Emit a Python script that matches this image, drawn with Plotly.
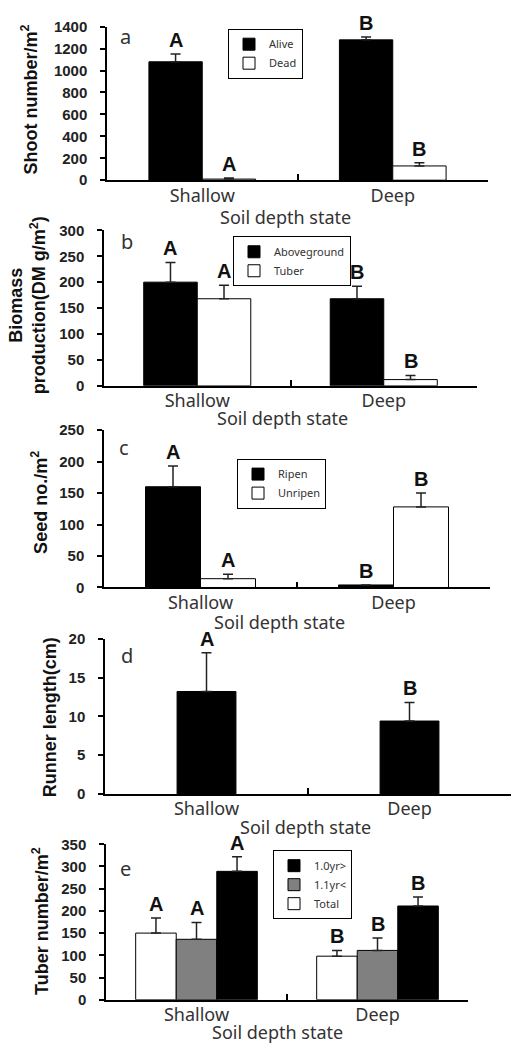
import plotly.graph_objects as go

W, H = 513, 1051

# ---------------- data ----------------
categories = ["Shallow", "Deep"]

# (a) shoot number / m2
alive = [1080, 1280]
alive_err = [70, 25]
alive_sig = ["A", "B"]
dead = [10, 130]
dead_err = [10, 30]
dead_sig = ["A", "B"]

# (b) biomass production (DM g/m2)
aboveground = [200, 168]
aboveground_err = [38, 24]
aboveground_sig = ["A", "B"]
tuber = [168, 12]
tuber_err = [26, 8]
tuber_sig = ["A", "B"]

# (c) seed no. / m2
ripen = [160, 4]
ripen_err = [33, 0]
ripen_sig = ["A", "B"]
unripen = [14, 128]
unripen_err = [7, 22]
unripen_sig = ["A", "B"]

# (d) runner length (cm)
runner = [13.2, 9.4]
runner_err = [5.0, 2.4]
runner_sig = ["A", "B"]

# (e) tuber number / m2
total = [150, 98]
total_err = [34, 13]
total_sig = ["A", "B"]
yr11 = [136, 111]
yr11_err = [38, 28]
yr11_sig = ["A", "B"]
yr10 = [289, 211]
yr10_err = [33, 20]
yr10_sig = ["A", "B"]

ticks_a = [0, 200, 400, 600, 800, 1000, 1200, 1400]
ticks_b = [0, 50, 100, 150, 200, 250, 300]
ticks_c = [0, 50, 100, 150, 200, 250]
ticks_d = [0, 5, 10, 15, 20]
ticks_e = [0, 50, 100, 150, 200, 250, 300, 350]

x_title = "Soil depth state"

# ---------------- layout helpers ----------------
def fx(px):
    return px / W

def fy(py):
    return 1 - py / H

BLACK, WHITE, GRAY = "#000000", "#ffffff", "#808080"

panels = [
    dict(label="a", box=(107, 488, 18, 174), ticks=ticks_a,
         ytitle="Shoot number/m<sup>2</sup>", ytitle_pos=(30, 92),
         series=[("Alive", alive, alive_err, alive_sig, BLACK),
                 ("Dead", dead, dead_err, dead_sig, WHITE)],
         bw=0.28, legend=(228, 20), lab=(125, 28), xt=(285, 211), rev=False),
    dict(label="b", box=(104, 477, 225, 383), ticks=ticks_b,
         ytitle="Biomass<br>production(DM g/m<sup>2</sup>)", ytitle_pos=(27, 301),
         series=[("Aboveground", aboveground, aboveground_err, aboveground_sig, BLACK),
                 ("Tuber", tuber, tuber_err, tuber_sig, WHITE)],
         bw=0.287, legend=(233, 231), lab=(127, 236), xt=(282, 416), rev=False),
    dict(label="c", box=(104, 490, 428, 588), ticks=ticks_c,
         ytitle="Seed no./m<sup>2</sup>", ytitle_pos=(40, 502),
         series=[("Ripen", ripen, ripen_err, ripen_sig, BLACK),
                 ("Unripen", unripen, unripen_err, unripen_sig, WHITE)],
         bw=0.285, legend=(237, 457), lab=(124, 446), xt=(279, 623), rev=False),
    dict(label="d", box=(105, 511, 640, 798), ticks=ticks_d,
         ytitle="Runner length(cm)", ytitle_pos=(50, 720),
         series=[("Runner", runner, runner_err, runner_sig, BLACK)],
         bw=0.29, legend=None, lab=(127, 657), xt=(305, 831), rev=False),
    dict(label="e", box=(106, 468, 849, 1007), ticks=ticks_e,
         ytitle="Tuber number/m<sup>2</sup>", ytitle_pos=(40, 927),
         series=[("Total", total, total_err, total_sig, WHITE),
                 ("1.1yr<", yr11, yr11_err, yr11_sig, GRAY),
                 ("1.0yr>", yr10, yr10_err, yr10_sig, BLACK)],
         bw=0.224, legend=(273, 855), lab=(125, 874), xt=(277, 1040), rev=True),
]

fig = go.Figure()
annotations = []
layout = dict(
    width=W, height=H,
    margin=dict(l=0, r=0, t=0, b=0),
    paper_bgcolor="white", plot_bgcolor="white",
    barmode="overlay",
    showlegend=True,
    font=dict(family="Liberation Sans, Arial", color="#222222"),
)

for i, p in enumerate(panels, start=1):
    sfx = "" if i == 1 else str(i)
    xa, ya = "x" + sfx, "y" + sfx
    lg = "legend" + sfx
    x0, x1, y0, y1 = p["box"]
    n = len(p["series"])
    bw = p["bw"]
    cat_px = (x1 - x0) / len(categories)
    for k, (name, vals, err, sig, col) in enumerate(p["series"]):
        off = -n * bw / 2 + k * bw
        fig.add_trace(go.Bar(
            x=categories, y=vals, name=name,
            width=[bw] * len(categories), offset=[off] * len(categories),
            marker=dict(color=col, line=dict(color="black", width=1)),
            error_y=dict(type="data", symmetric=False, array=err,
                         arrayminus=[0] * len(err), color="#222222",
                         thickness=1.5, width=5),
            xaxis=xa, yaxis=ya, legend=lg,
            showlegend=p["legend"] is not None,
        ))
        for j, c in enumerate(categories):
            annotations.append(dict(
                x=c, y=vals[j] + err[j], xref=xa, yref=ya,
                xshift=(off + bw / 2) * cat_px, yshift=1,
                text=sig[j], showarrow=False, yanchor="bottom",
                font=dict(family="Liberation Sans, Arial", size=20,
                          color="#111111", weight="bold"),
            ))
    layout["xaxis" + sfx] = dict(
        domain=[fx(x0), fx(x1)], anchor=ya, type="category",
        range=[-0.5, 1.5], showline=True, linecolor="black", linewidth=1.5,
        ticks="inside", tickson="boundaries", ticklen=6, tickwidth=1.5,
        tickcolor="black", showgrid=False, zeroline=False,
        ticklabelstandoff=-2,
        tickfont=dict(family="Noto Sans", size=18, color="#333333"),
    )
    layout["yaxis" + sfx] = dict(
        domain=[fy(y1), fy(y0)], anchor=xa,
        range=[0, p["ticks"][-1]], tickvals=p["ticks"],
        showline=True, linecolor="black", linewidth=1.5,
        ticks="outside", ticklen=5, tickwidth=1.5, tickcolor="black",
        ticklabelstandoff=10,
        showgrid=False, zeroline=False,
        tickfont=dict(family="Liberation Sans, Arial", size=15,
                      color="#222222", weight="bold"),
    )
    if p["legend"] is not None:
        lx, ly = p["legend"]
        layout[lg] = dict(
            x=fx(lx), y=fy(ly), xanchor="left", yanchor="top",
            xref="paper", yref="paper",
            bgcolor="white", bordercolor="black", borderwidth=1,
            font=dict(family="Noto Sans", size=11, color="#333333"),
            itemwidth=30, tracegroupgap=0,
            traceorder="reversed" if p["rev"] else "normal",
        )
    # y-axis title
    tx, ty = p["ytitle_pos"]
    annotations.append(dict(
        x=fx(tx), y=fy(ty), xref="paper", yref="paper", text=p["ytitle"],
        textangle=-90, showarrow=False, xanchor="center", yanchor="middle",
        font=dict(family="Liberation Sans, Arial", size=18, color="#111111",
                  weight="bold"),
    ))
    # x-axis title
    gx, gy = p["xt"]
    annotations.append(dict(
        x=fx(gx), y=fy(gy), xref="paper", yref="paper", text=x_title,
        showarrow=False, xanchor="center", yanchor="middle",
        font=dict(family="Noto Sans", size=18, color="#333333"),
    ))
    # panel label
    px_, py_ = p["lab"]
    annotations.append(dict(
        x=fx(px_), y=fy(py_), xref="paper", yref="paper", text=p["label"],
        showarrow=False, xanchor="center", yanchor="middle",
        font=dict(family="Noto Sans", size=20, color="#333333"),
    ))

layout["annotations"] = annotations
fig.update_layout(**layout)
fig.write_html("out.html",
               config={"displayModeBar": False},
               post_script="document.body.style.margin='0';")
